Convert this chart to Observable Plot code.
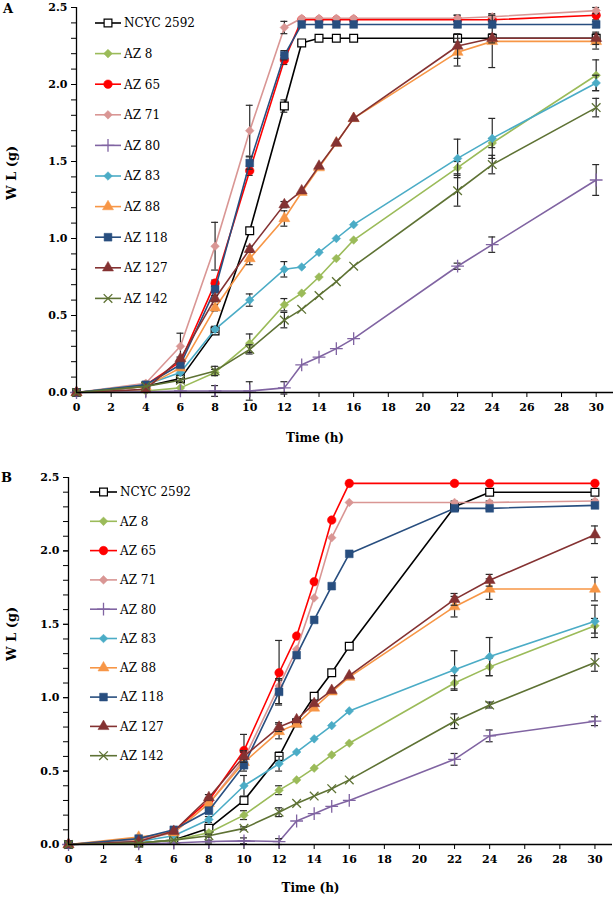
<!DOCTYPE html>
<html>
<head>
<meta charset="utf-8">
<script src="https://cdn.jsdelivr.net/npm/d3@7"></script>
<script src="https://cdn.jsdelivr.net/npm/@observablehq/plot@0.6"></script>
<style>
  html, body { margin: 0; padding: 0; background: #fff; }
  #root { width: 614px; position: relative; }
  .panel { position: relative; width: 614px; }
  .panel svg.overlay { position: absolute; left: 0; top: 0; pointer-events: none; }
</style>
</head>
<body>
<div id="root"></div>
<script>
// ---------- data ----------
const seriesNames = ["NCYC 2592", "AZ 8", "AZ 65", "AZ 71", "AZ 80", "AZ 83", "AZ 88", "AZ 118", "AZ 127", "AZ 142"];
const seriesColors = ["#000000", "#9BBB59", "#FF0000", "#D99694", "#8064A2", "#4BACC6", "#F79646", "#284E7F", "#843232", "#5E7234"];
const seriesSymbols = ["square", "diamond2", "circle", "diamond2", "plus", "diamond2", "triangle", "square", "triangle", "times"];

const times = [0, 4, 6, 8, 10, 12, 13, 14, 15, 16, 22, 24, 30];
const xTicks = [0, 2, 4, 6, 8, 10, 12, 14, 16, 18, 20, 22, 24, 26, 28, 30];
const yTicks = [0, 0.5, 1.0, 1.5, 2.0, 2.5];

// Panel A: weight loss (g) per strain, one row per series, one value per time
const valuesA = [
  [0, 0.04, 0.09, 0.40, 1.05, 1.86, 2.27, 2.30, 2.30, 2.30, 2.30, 2.30, 2.30],
  [0, 0.01, 0.03, 0.13, 0.32, 0.57, 0.645, 0.75, 0.87, 0.99, 1.46, 1.62, 2.06],
  [0, 0.05, 0.20, 0.71, 1.44, 2.16, 2.42, 2.42, 2.42, 2.42, 2.42, 2.42, 2.45],
  [0, 0.06, 0.30, 0.95, 1.70, 2.37, 2.43, 2.43, 2.43, 2.43, 2.43, 2.44, 2.48],
  [0, 0.005, 0.01, 0.01, 0.01, 0.03, 0.18, 0.23, 0.285, 0.35, 0.82, 0.96, 1.38],
  [0, 0.05, 0.13, 0.41, 0.60, 0.80, 0.815, 0.91, 1.00, 1.09, 1.52, 1.65, 2.01],
  [0, 0.04, 0.16, 0.55, 0.87, 1.13, 1.30, 1.46, 1.62, 1.78, 2.21, 2.28, 2.28],
  [0, 0.05, 0.18, 0.67, 1.49, 2.19, 2.39, 2.39, 2.39, 2.39, 2.39, 2.39, 2.39],
  [0, 0.02, 0.22, 0.61, 0.93, 1.22, 1.31, 1.47, 1.62, 1.78, 2.25, 2.30, 2.30],
  [0, 0.04, 0.08, 0.14, 0.28, 0.47, 0.54, 0.63, 0.72, 0.82, 1.31, 1.48, 1.85]
];
const errorsA = [
  [0, 0, 0.01, 0.01, 0.02, 0.04, 0, 0, 0, 0, 0.02, 0.02, 0.02],
  [0, 0, 0, 0.02, 0.06, 0.04, 0, 0, 0, 0, 0.04, 0.03, 0.10],
  [0, 0, 0, 0.02, 0.03, 0.03, 0, 0, 0, 0, 0.03, 0.03, 0.03],
  [0, 0.01, 0.085, 0.155, 0.165, 0.04, 0, 0, 0, 0, 0.02, 0.02, 0.02],
  [0, 0, 0, 0.035, 0.06, 0.04, 0, 0, 0, 0, 0.02, 0.05, 0.10],
  [0, 0, 0.02, 0.02, 0.04, 0.05, 0, 0, 0, 0, 0.125, 0.13, 0.05],
  [0, 0, 0.01, 0.02, 0.04, 0.05, 0, 0, 0, 0, 0.09, 0.17, 0.05],
  [0, 0, 0.01, 0.02, 0.04, 0.03, 0, 0, 0, 0, 0.02, 0.02, 0.02],
  [0, 0, 0.01, 0.02, 0.02, 0.02, 0, 0, 0, 0, 0.08, 0.03, 0.04],
  [0, 0, 0.01, 0.03, 0.03, 0.05, 0, 0, 0, 0, 0.10, 0.06, 0.06]
];

// Panel B
const valuesB = [
  [0, 0.01, 0.03, 0.11, 0.30, 0.60, 0.83, 1.01, 1.17, 1.35, 2.30, 2.40, 2.40],
  [0, 0.01, 0.03, 0.08, 0.20, 0.37, 0.44, 0.52, 0.61, 0.69, 1.10, 1.21, 1.49],
  [0, 0.03, 0.09, 0.30, 0.64, 1.17, 1.42, 1.79, 2.21, 2.46, 2.46, 2.46, 2.46],
  [0, 0.03, 0.08, 0.28, 0.58, 1.08, 1.33, 1.68, 2.09, 2.33, 2.33, 2.33, 2.34],
  [0, 0.005, 0.01, 0.02, 0.025, 0.02, 0.16, 0.21, 0.26, 0.30, 0.58, 0.74, 0.84],
  [0, 0.02, 0.06, 0.17, 0.40, 0.55, 0.63, 0.72, 0.81, 0.91, 1.19, 1.28, 1.52],
  [0, 0.05, 0.08, 0.28, 0.56, 0.77, 0.82, 0.93, 1.04, 1.14, 1.62, 1.74, 1.74],
  [0, 0.04, 0.10, 0.23, 0.54, 1.04, 1.29, 1.53, 1.76, 1.98, 2.29, 2.29, 2.31],
  [0, 0.02, 0.09, 0.32, 0.60, 0.80, 0.85, 0.96, 1.05, 1.15, 1.67, 1.80, 2.11],
  [0, 0.01, 0.03, 0.06, 0.11, 0.22, 0.28, 0.33, 0.38, 0.44, 0.84, 0.95, 1.24]
];
const errorsB = [
  [0, 0, 0.005, 0.01, 0.02, 0.03, 0, 0, 0, 0, 0.03, 0.02, 0.02],
  [0, 0, 0, 0.01, 0.03, 0.03, 0, 0, 0, 0, 0.05, 0.06, 0.05],
  [0, 0, 0, 0.02, 0.11, 0.22, 0, 0, 0, 0, 0.01, 0.01, 0.01],
  [0, 0, 0, 0.02, 0.05, 0.05, 0, 0, 0, 0, 0.01, 0.01, 0.01],
  [0, 0, 0, 0.01, 0.02, 0.02, 0, 0, 0, 0, 0.04, 0.04, 0.03],
  [0, 0, 0, 0.02, 0.07, 0.05, 0, 0, 0, 0, 0.13, 0.13, 0.11],
  [0, 0, 0, 0.02, 0.03, 0.05, 0, 0, 0, 0, 0.07, 0.07, 0.08],
  [0, 0, 0, 0.02, 0.04, 0.08, 0, 0, 0, 0, 0.01, 0.01, 0.01],
  [0, 0, 0, 0.02, 0.04, 0.03, 0, 0, 0, 0, 0.04, 0.04, 0.06],
  [0, 0, 0, 0.01, 0.01, 0.03, 0, 0, 0, 0, 0.05, 0.02, 0.06]
];

// ---------- helpers ----------
const FONT = "'DejaVu Serif', 'Liberation Serif', serif";
const symbolMap = {
  square: d3.symbolSquare, circle: d3.symbolCircle, diamond2: d3.symbolDiamond2,
  plus: d3.symbolPlus, triangle: d3.symbolTriangle, times: d3.symbolTimes
};
const symbolR = { square: 4.4, circle: 4.3, diamond2: 3.9, plus: 4.2, triangle: 4.1, times: 4.0 };
const strokeOnly = s => s === "plus" || s === "times";

function seriesStyle(i) {
  const sym = seriesSymbols[i];
  const col = seriesColors[i];
  if (i === 0) return { fill: "#fff", stroke: col, strokeWidth: 1.2 };
  if (strokeOnly(sym)) return { fill: "none", stroke: col, strokeWidth: 1.3 };
  return { fill: col, stroke: col, strokeWidth: 0.5 };
}

function buildPanel(cfg) {
  const marks = [];
  const yMinor = d3.range(0, 26).map(i => i / 10);
  marks.push(Plot.axisY(yMinor, { tickSize: 5, tickFormat: () => "", label: null, stroke: "#000" }));
  marks.push(Plot.axisY(yTicks, { tickSize: 5, tickPadding: 4, tickFormat: d => d.toFixed(1), label: null, stroke: "#000" }));
  marks.push(Plot.axisX(xTicks, { tickSize: 5, tickPadding: 6, label: null, stroke: "#000" }));

  seriesNames.forEach((name, i) => {
    const rows = times.map((t, j) => ({ t, v: cfg.values[i][j], e: cfg.errors[i][j], series: name }));
    const errRows = rows.filter(d => d.e > 0);
    marks.push(Plot.line(rows, { x: "t", y: "v", stroke: seriesColors[i], strokeWidth: 1.6 }));
    marks.push(Plot.ruleX(errRows, { x: "t", y1: d => d.v - d.e, y2: d => d.v + d.e, stroke: "#2a2a2a", strokeWidth: 1.2 }));
    marks.push(Plot.ruleY(errRows, { y: d => d.v + d.e, x1: d => d.t - 0.2, x2: d => d.t + 0.2, stroke: "#2a2a2a", strokeWidth: 1.2 }));
    marks.push(Plot.ruleY(errRows, { y: d => d.v - d.e, x1: d => d.t - 0.2, x2: d => d.t + 0.2, stroke: "#2a2a2a", strokeWidth: 1.2 }));
    const st = seriesStyle(i);
    marks.push(Plot.dot(rows, { x: "t", y: "v", symbol: seriesSymbols[i], r: symbolR[seriesSymbols[i]], ...st }));
  });

  marks.push(Plot.ruleX([0], { stroke: "#000", strokeWidth: 1.3 }));
  marks.push(Plot.ruleY([0], { stroke: "#000", strokeWidth: 1.3 }));
  marks.push(Plot.text(["Time (h)"], { frameAnchor: "bottom", text: d => d, dx: cfg.xLabelDx, dy: cfg.xLabelDy, lineAnchor: "middle", fontSize: 12, fontWeight: "bold" }));
  marks.push(Plot.text(["W L (g)"], { frameAnchor: "left", text: d => d, dx: cfg.yLabelDx, rotate: -90, fontSize: 13, fontWeight: "bold" }));

  const chart = Plot.plot({
    width: 614, height: cfg.height,
    marginLeft: cfg.ml, marginRight: cfg.mr, marginTop: cfg.mt, marginBottom: cfg.mb,
    x: { domain: [0, 31], label: null },
    y: { domain: [0, 2.5], label: null },
    style: { fontFamily: FONT, fontSize: "11px", fontWeight: "bold", color: "#000", background: "#fff" },
    marks
  });

  const div = document.createElement("div");
  div.className = "panel";
  div.style.height = cfg.height + "px";
  div.appendChild(chart);

  // legend + panel letter overlay
  const ov = d3.select(div).append("svg").attr("class", "overlay")
    .attr("width", 614).attr("height", cfg.height);
  ov.append("text").attr("x", cfg.letterX).attr("y", cfg.letterY)
    .attr("font-family", FONT).attr("font-weight", "bold").attr("font-size", 13).text(cfg.letter);
  const lg = cfg.legend;
  seriesNames.forEach((name, i) => {
    const y = lg.y0 + i * lg.dy;
    const g = ov.append("g");
    g.append("line").attr("x1", lg.x0).attr("x2", lg.x1).attr("y1", y).attr("y2", y)
      .attr("stroke", seriesColors[i]).attr("stroke-width", 1.6);
    const sym = seriesSymbols[i];
    const r = symbolR[sym];
    const st = seriesStyle(i);
    g.append("path").attr("transform", `translate(${(lg.x0 + lg.x1) / 2},${y})`)
      .attr("d", d3.symbol(symbolMap[sym], r * r * Math.PI)())
      .attr("fill", st.fill).attr("stroke", st.stroke).attr("stroke-width", st.strokeWidth);
    g.append("text").attr("x", lg.x1 + 3).attr("y", y).attr("dy", "0.36em")
      .attr("font-family", FONT).attr("font-size", 12).attr("fill", "#000").text(name);
  });
  return div;
}

const root = document.getElementById("root");
root.appendChild(buildPanel({
  values: valuesA, errors: errorsA, height: 450,
  ml: 76, mr: 1, mt: 7, mb: 58,
  xLabelDx: -30, xLabelDy: 46, yLabelDx: -65,
  letter: "A", letterX: 3, letterY: 13,
  legend: { x0: 95, x1: 121, y0: 23, dy: 30.6 }
}));
root.appendChild(buildPanel({
  values: valuesB, errors: errorsB, height: 447,
  ml: 68, mr: 2, mt: 27, mb: 53,
  xLabelDx: -30, xLabelDy: 44, yLabelDx: -57,
  letter: "B", letterX: 1, letterY: 32,
  legend: { x0: 90, x1: 117, y0: 42, dy: 29.3 }
}));
</script>
</body>
</html>
